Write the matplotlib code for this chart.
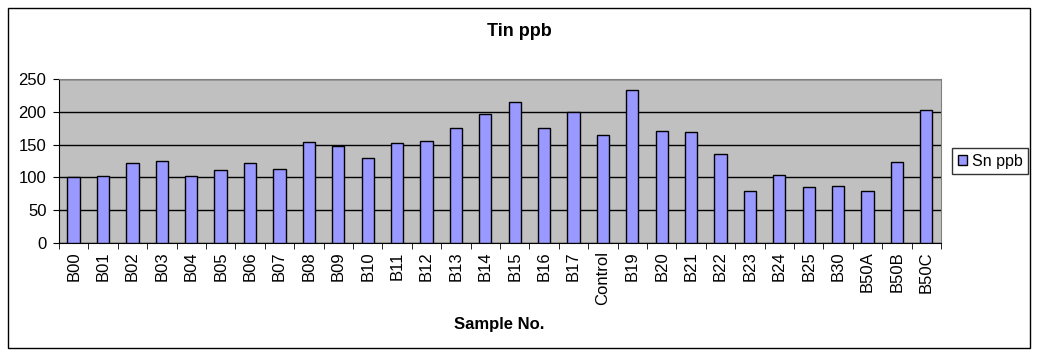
import matplotlib
matplotlib.use("Agg")
import matplotlib.pyplot as plt
from matplotlib.patches import Rectangle
import numpy as np

plt.rcParams['font.family'] = ['Liberation Sans', 'DejaVu Sans']

samples = ['B00', 'B01', 'B02', 'B03', 'B04', 'B05', 'B06', 'B07', 'B08', 'B09',
           'B10', 'B11', 'B12', 'B13', 'B14', 'B15', 'B16', 'B17', 'Control', 'B19',
           'B20', 'B21', 'B22', 'B23', 'B24', 'B25', 'B30', 'B50A', 'B50B', 'B50C']
sn_ppb = [100, 102, 122, 125, 102, 111, 122, 113, 154, 148,
          130, 152, 155, 175, 197, 215, 175, 200, 165, 233,
          171, 169, 136, 79, 104, 85, 87, 79, 123, 203]
yticks = [0, 50, 100, 150, 200, 250]

fig = plt.figure(figsize=(10.4, 3.56), dpi=100)
ax = fig.add_axes([0.0567, 0.3174, 0.8481, 0.4606])
ax.set_facecolor('#C0C0C0')

x = np.arange(len(samples))
ax.bar(x, sn_ppb, width=0.42, color='#9999FF', edgecolor='black', linewidth=1,
       label='Sn ppb', zorder=3)

ax.set_xlim(-0.5, len(samples) - 0.5)
ax.set_ylim(0, 250)
ax.set_yticks(yticks)
ax.yaxis.grid(True, color='black', linewidth=1, zorder=1)
ax.set_axisbelow(True)

ax.set_xticks(x)
ax.set_xticklabels(samples, rotation=90, fontsize=12)
ax.tick_params(axis='x', length=0, pad=6)
ax.set_xticks(np.arange(len(samples) + 1) - 0.5, minor=True)
ax.tick_params(axis='x', which='minor', length=4, color='black')
ax.tick_params(axis='y', labelsize=12, length=4, color='black', pad=5)

for s in ['top', 'right']:
    ax.spines[s].set_color('#808080')
for s in ['left', 'bottom']:
    ax.spines[s].set_color('black')

fig.text(519.5 / 1040, 1 - 31 / 356, 'Tin ppb', fontsize=13, fontweight='bold',
         ha='center', va='center')
ax.set_xlabel('Sample No.', fontsize=12, fontweight='bold', va='center')
ax.xaxis.set_label_coords(0.499, -0.5)

leg = ax.legend(loc='center left', bbox_to_anchor=(1.0125, 0.5), borderaxespad=0,
                frameon=True, fancybox=False, edgecolor='black', fontsize=11.5,
                handlelength=0.6, handleheight=0.6, borderpad=0.35, handletextpad=0.3)
leg.get_frame().set_linewidth(1)

fig.patches.append(Rectangle((8 / 1040, 8 / 356), 1022 / 1040, 340 / 356,
                             transform=fig.transFigure, fill=False,
                             edgecolor='black', linewidth=1))

fig.savefig('out.png', dpi=100)
